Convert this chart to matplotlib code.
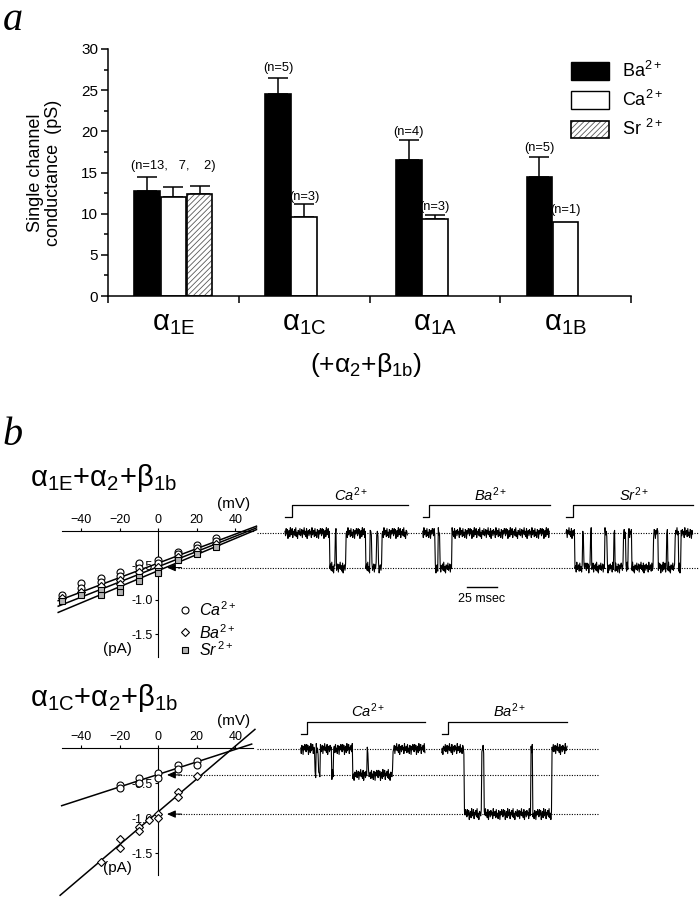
import numpy as np
import matplotlib
matplotlib.use('Agg')
import matplotlib.pyplot as plt
from matplotlib.patches import Patch

plt.rcParams['font.family'] = ['Liberation Sans', 'DejaVu Sans']
plt.rcParams['mathtext.fontset'] = 'custom'
plt.rcParams['mathtext.rm'] = 'Liberation Sans'
plt.rcParams['mathtext.it'] = 'Liberation Sans:italic'
plt.rcParams['mathtext.bf'] = 'Liberation Sans:bold'
plt.rcParams['hatch.linewidth'] = 0.6

# ---------------- panel a data ----------------
groups = [r'α$_{\mathrm{1E}}$', r'α$_{\mathrm{1C}}$', r'α$_{\mathrm{1A}}$', r'α$_{\mathrm{1B}}$']
ba_mean = [12.7, 24.5, 16.5, 14.45]
ba_err = [1.8, 2.0, 2.4, 2.4]
ca_mean = [12.05, 9.55, 9.35, 9.0]
ca_err = [1.15, 1.65, 0.45, 0.0]
sr_mean = [12.4]
sr_err = [1.0]
n_labels = ['(n=13,   7,    2)', '(n=5)', '(n=3)', '(n=4)', '(n=3)', '(n=5)', '(n=1)']

# ---------------- panel b data: I-V ----------------
# alpha1E
e_ca_v = [-50, -40, -40, -30, -30, -20, -20, -10, -10, 0, 0, 10, 10, 20, 20, 30, 30]
e_ca_i = [-0.93, -0.75, -0.82, -0.68, -0.74, -0.59, -0.65, -0.47, -0.53, -0.42, -0.47, -0.30, -0.34, -0.20, -0.25, -0.10, -0.14]
e_ba_v = [-50, -40, -30, -20, -20, -10, 0, 10, 20, 30]
e_ba_i = [-0.97, -0.88, -0.80, -0.71, -0.77, -0.60, -0.52, -0.38, -0.29, -0.19]
e_sr_v = [-50, -40, -30, -30, -20, -20, -10, -10, 0, 0, 10, 20, 30]
e_sr_i = [-1.02, -0.93, -0.86, -0.93, -0.83, -0.88, -0.66, -0.72, -0.58, -0.61, -0.42, -0.33, -0.23]
e_fit_v = [-52, 51]
e_fit_i = [[-1.01, 0.07], [-1.09, 0.045], [-1.18, 0.02]]

# alpha1C
c_ca_v = [-20, -20, -10, -10, 0, 0, 10, 10, 20, 20]
c_ca_i = [-0.52, -0.57, -0.42, -0.50, -0.35, -0.42, -0.24, -0.30, -0.18, -0.24]
c_ba_v = [-30, -20, -20, -10, -10, -5, 0, 0, 10, 10, 20]
c_ba_i = [-1.62, -1.30, -1.43, -1.12, -1.18, -1.03, -0.94, -1.00, -0.62, -0.69, -0.40]
c_fit_ca_v = [-50.2, 48.5]
c_fit_ca_i = [-0.82, 0.06]
c_fit_ba_v = [-51, 50.2]
c_fit_ba_i = [-2.10, 0.27]

# ---------------- panel b data: single channel traces ----------------
# openings (start, end) in msec, duration, open level (pA)
e_traces = [
    ('Ca', 102.5, -0.53, [(37.5, 41.7), (43.0, 50.8), (67.2, 70.8), (72.2, 76.4), (77.8, 80.6)]),
    ('Ba', 106.0, -0.53, [(10.2, 13.0), (14.4, 24.1)]),
    ('Sr', 106.0, -0.53, [(7.5, 14.0), (14.8, 20.5), (21.3, 32.5),
                          (34.4, 40.0), (40.8, 47.8), (50.0, 51.9), (54.7, 72.8),
                          (76.9, 84.0), (84.8, 90.8), (93.6, 95.6)]),
]
c_traces = [
    ('Ca', 103.6, -0.38, [(12.0, 12.8), (15.0, 16.5), (26.0, 27.5),
                          (43.3, 55.2), (56.5, 76.6)]),
    ('Ba', 104.7, -0.94, [(18.6, 33.3), (35.3, 74.2), (75.8, 91.7)]),
]
noise = [0.02, -0.03, 0.05, -0.01, 0.04, -0.06, 0.01, 0.03, -0.04, 0.06,
         -0.02, 0.00, 0.05, -0.05, 0.02, -0.01, 0.04, -0.03, 0.06, -0.04,
         0.01, -0.06, 0.03, 0.02, -0.02, 0.05, -0.03, 0.00, 0.04, -0.05,
         0.03, -0.01, 0.06, -0.02, 0.02, -0.04, 0.05, -0.06, 0.01, 0.03,
         -0.03, 0.04, -0.01, 0.02, -0.05, 0.06, -0.02, 0.00, 0.03, -0.04,
         0.05, -0.03, 0.01, -0.05, 0.04, 0.02, -0.06, 0.03, -0.01, 0.05]

W, H = 699, 899
fig = plt.figure(figsize=(W / 100, H / 100), dpi=100)


def rect(left, top, width, height):
    return [left / W, 1 - (top + height) / H, width / W, height / H]


def ftext(x, y, s, **kw):
    fig.text(x / W, 1 - y / H, s, **kw)


# ================= panel a =================
ax = fig.add_axes(rect(108, 49, 523, 247))
x = np.arange(4) + 0.5
bw = 0.196
ax.bar(x - 0.2, ba_mean, bw, color='black', edgecolor='black', lw=1.2, zorder=2)
ax.bar(x, ca_mean, bw, color='white', edgecolor='black', lw=1.2, zorder=2)
hb = ax.bar(x[:1] + 0.2, sr_mean, bw, color='white', edgecolor='0.35', lw=0, hatch='//////', zorder=2)
ob = ax.bar(x[:1] + 0.2, sr_mean, bw, fill=False, edgecolor='black', lw=1.2, zorder=2)
eb = dict(fmt='none', ecolor='black', elinewidth=1.1, capsize=7, capthick=1.1, zorder=1)
ax.errorbar(x - 0.2, ba_mean, yerr=[np.zeros(4), ba_err], **eb)
ax.errorbar(x[:3], ca_mean[:3], yerr=[np.zeros(3), ca_err[:3]], **eb)
ax.errorbar(x[:1] + 0.2, sr_mean, yerr=[[0], sr_err], **eb)

n_pos = [(0.5, 15.8), (1.3, 27.7), (1.5, 12.0), (2.3, 19.9), (2.5, 10.8), (3.3, 18.0), (3.5, 10.4)]
for (px, py), s in zip(n_pos, n_labels):
    ax.text(px, py, s, ha='center', va='center', fontsize=9.3)

ax.set_xlim(0, 4)
ax.set_ylim(0, 30)
ax.spines['top'].set_visible(False)
ax.spines['right'].set_visible(False)
ax.set_xticks([0, 1, 2, 3, 4])
ax.set_xticklabels([])
ax.tick_params(axis='x', direction='out', length=5, width=1.1)
ax.set_yticks(np.arange(0, 31, 5))
ax.set_yticks(np.arange(2.5, 30, 5), minor=True)
ax.tick_params(axis='y', which='major', length=5, width=1.1, labelsize=11, pad=2)
ax.tick_params(axis='y', which='minor', length=3, width=1.1)
for s in ['left', 'bottom']:
    ax.spines[s].set_linewidth(1.1)
ax.set_ylabel('Single channel\nconductance  (pS)', fontsize=13, labelpad=14, linespacing=1.05)
for xi, g in zip(x, groups):
    ax.text(xi, -3.3, g, ha='center', va='center', fontsize=21, clip_on=False)
ax.text(1.97, -8.4, r'(+α$_{\mathrm{2}}$+β$_{\mathrm{1b}}$)', ha='center', va='center',
        fontsize=19, clip_on=False)

handles = [Patch(facecolor='black', edgecolor='black'),
           Patch(facecolor='white', edgecolor='black'),
           (hb[0], ob[0])]
fig.legend(handles, [r'Ba$^{\mathrm{2+}}$', r'Ca$^{\mathrm{2+}}$', r'Sr $^{\mathrm{2+}}$'],
           loc='upper left', bbox_to_anchor=(571 / W, 1 - 61 / H), bbox_transform=fig.transFigure,
           frameon=False, fontsize=13, handlelength=2.1, handleheight=1.1,
           handletextpad=0.75, labelspacing=0.5, borderpad=0, borderaxespad=0)

ftext(3, 30, 'a', fontsize=29, family='Liberation Serif', style='italic', va='baseline')
ftext(3, 445, 'b', fontsize=29, family='Liberation Serif', style='italic', va='baseline')

# ================= panel b =================
mv_px = 1.925
dotted = dict(color='black', lw=0.8, ls=(0, (1, 1.3)))


def iv_axes(zero_px, pa_px, ylo, yaxis_lo):
    yhi = 0.65
    a = fig.add_axes(rect(158.3 - 53 * mv_px, zero_px - yhi * pa_px, 105 * mv_px, (yhi - ylo) * pa_px))
    a.set_facecolor('none')
    a.set_xlim(-53, 52)
    a.set_ylim(ylo, yhi)
    a.spines['right'].set_visible(False)
    a.spines['bottom'].set_visible(False)
    a.spines['top'].set_position(('data', 0))
    a.spines['left'].set_position(('data', 0))
    a.spines['top'].set_bounds(-50, 49)
    a.spines['left'].set_bounds(yaxis_lo, 0)
    a.xaxis.set_ticks_position('top')
    a.set_xticks([-40, -20, 0, 20, 40])
    a.set_yticks([-1.5, -1.0, -0.5])
    a.set_yticklabels(['-1.5', '-1.0', '-0.5'])
    a.tick_params(axis='x', length=2.5, pad=1, labelsize=9)
    a.tick_params(axis='y', length=2.5, pad=1.5, labelsize=9)
    a.text(39, 0.39, '(mV)', ha='center', va='center', fontsize=11)
    a.text(-21, -1.71, '(pA)', ha='center', va='center', fontsize=11)
    ta = fig.add_axes(rect(257, zero_px - yhi * pa_px, 442, (yhi - ylo) * pa_px))
    ta.set_facecolor('none')
    ta.set_xlim(0, 442 / 1.2)
    ta.set_ylim(ylo, yhi)
    ta.axis('off')
    return a, ta


def arrow_level(a, ta, level, t_end):
    a.plot([10, 52], [level, level], **dotted)
    a.annotate('', xy=(4.5, level), xytext=(12, level),
               arrowprops=dict(arrowstyle='-|>,head_length=0.5,head_width=0.22', color='black',
                               lw=0.8, shrinkA=0, shrinkB=0))
    ta.plot([0, t_end], [level, level], **dotted)


def draw_trace(ta, t0, dur, base, open_level, openings, name, shift):
    t = np.arange(0, dur, 0.5)
    level = np.full(len(t), base)
    for a0, a1 in openings:
        level[(t >= a0) & (t < a1)] = open_level
    y = level + 1.3 * np.resize(np.roll(noise, shift), len(t))
    ta.plot(t0 + t, y, color='black', lw=0.8)
    # voltage step protocol
    ta.plot([t0, t0 + 5.5, t0 + 5.5, t0 + dur], [0.21, 0.21, 0.38, 0.38], color='black', lw=0.9)
    ta.text(t0 + dur / 2 + 4, 0.53, r'$%s^{2+}$' % name, ha='center', va='center', fontsize=10.5)


# ---- alpha1E row ----
ftext(30, 478, r'α$_{\mathrm{1E}}$+α$_{\mathrm{2}}$+β$_{\mathrm{1b}}$', fontsize=21, va='center')
a1, t1 = iv_axes(531, 69, -1.9, -1.83)
for fi in e_fit_i:
    a1.plot(e_fit_v, fi, color='black', lw=1.1, zorder=2)
a1.plot(e_ca_v, e_ca_i, 'o', ms=5, mfc='white', mec='black', mew=0.8, zorder=3)
a1.plot(e_ba_v, e_ba_i, 'D', ms=4.3, mfc='white', mec='black', mew=0.8, zorder=3)
a1.plot(e_sr_v, e_sr_i, 's', ms=4.5, mfc='0.7', mec='black', mew=0.8, zorder=3)
leg_rows = [(-1.14, 'o', 5, 'white', r'$Ca^{2+}$'), (-1.47, 'D', 4.3, 'white', r'$Ba^{2+}$'),
            (-1.72, 's', 4.5, '0.7', r'$Sr^{\,2+}$')]
for ly, m, ms, fc, lab in leg_rows:
    a1.plot([14], [ly], m, ms=ms, mfc=fc, mec='black', mew=0.8, clip_on=False)
    a1.text(21, ly, lab, ha='left', va='center', fontsize=11.5)
arrow_level(a1, t1, -0.53, 442 / 1.2)
t1.plot([0, 442 / 1.2], [-0.03, -0.03], **dotted)
for (name, dur, lev, ops), t0, sh in zip(e_traces, [23.3, 138.1, 257.5], [0, 17, 33]):
    draw_trace(t1, t0, dur, -0.03, lev, ops, name, sh)
t1.plot([174.7, 199.7], [-0.81, -0.81], color='black', lw=1)
t1.text(187.2, -0.98, '25 msec', ha='center', va='center', fontsize=9)

# ---- alpha1C row ----
ftext(30, 698, r'α$_{\mathrm{1C}}$+α$_{\mathrm{2}}$+β$_{\mathrm{1b}}$', fontsize=21, va='center')
a2, t2 = iv_axes(748.3, 70, -2.15, -1.81)
a2.plot(c_fit_ca_v, c_fit_ca_i, color='black', lw=1.1, zorder=2)
a2.plot(c_fit_ba_v, c_fit_ba_i, color='black', lw=1.1, zorder=2)
a2.plot(c_ca_v, c_ca_i, 'o', ms=5, mfc='white', mec='black', mew=0.8, zorder=3)
a2.plot(c_ba_v, c_ba_i, 'D', ms=4.3, mfc='white', mec='black', mew=0.8, zorder=3)
t2.plot([0, 285], [-0.01, -0.01], **dotted)
arrow_level(a2, t2, -0.38, 285)
arrow_level(a2, t2, -0.94, 285)
for (name, dur, lev, ops), t0, sh in zip(c_traces, [36.4, 153.9], [8, 41]):
    draw_trace(t2, t0, dur, -0.01, lev, ops, name, sh)

fig.savefig('out.png', dpi=100)
